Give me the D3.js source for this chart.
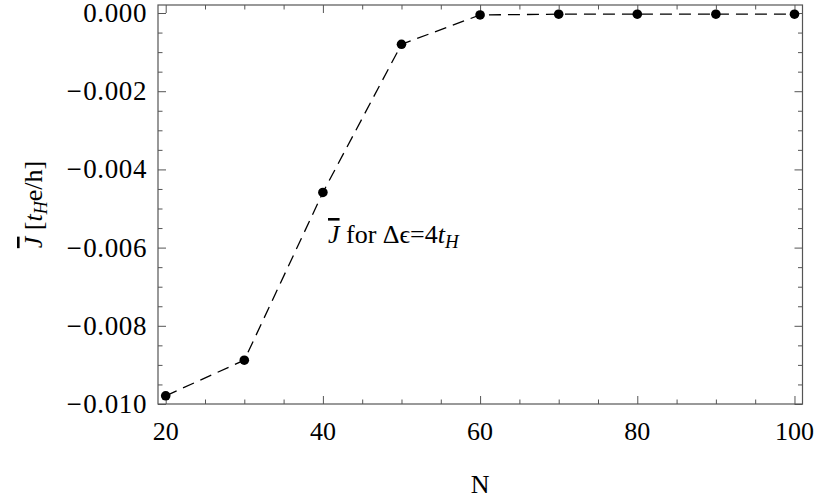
<!DOCTYPE html>
<html>
<head>
<meta charset="utf-8">
<script src="https://cdn.jsdelivr.net/npm/d3@7"></script>
<style>
  html, body { margin: 0; padding: 0; background: #fff; }
  svg { display: block; }
  text { font-family: "Liberation Serif", "DejaVu Serif", serif; fill: #000; }
</style>
</head>
<body>
<svg id="chart" width="819" height="501"></svg>
<script>
// Mean current J̄ versus system size N, for Δϵ = 4 t_H
const sizesN = [20, 30, 40, 50, 60, 70, 80, 90, 100];
const currentJ = [-0.00979, -0.00888, -0.00459, -0.00080, -0.00005, -0.00003, -0.00003, -0.00003, -0.00003];
const xMajorTicks = [20, 40, 60, 80, 100];
const yMajorTicks = [0, -0.002, -0.004, -0.006, -0.008, -0.010];

const W = 819, H = 501;
const margin = { left: 158, right: 16.5, top: 5, bottom: 97 };
const svg = d3.select("#chart");

const x = d3.scaleLinear().domain([19.02, 101.02]).range([margin.left, W - margin.right]);
const y = d3.scaleLinear().domain([-0.010, 0.000205]).range([H - margin.bottom, margin.top]);

const xMinor = d3.range(20, 101, 5).filter(v => !xMajorTicks.includes(v));
const yMinor = d3.range(0, 21).map(i => -i * 0.0005).filter(v => !yMajorTicks.some(t => Math.abs(t - v) < 1e-9));

const frameColor = "#555";

// Tick marks pointing into the plot on all four sides
function addTicks(axisGen, transform, tickVals, size) {
  const g = svg.append("g").attr("transform", transform)
    .call(axisGen.tickValues(tickVals).tickSize(size).tickFormat(""));
  g.select(".domain").remove();
  g.selectAll(".tick line").attr("stroke", frameColor).attr("stroke-width", 1);
  return g;
}
const bottomY = y.range()[0], topY = y.range()[1];
const leftX = x.range()[0], rightX = x.range()[1];
[[xMajorTicks, 8], [xMinor, 4.5]].forEach(([vals, s]) => {
  addTicks(d3.axisTop(x), `translate(0,${bottomY})`, vals, s);
  addTicks(d3.axisBottom(x), `translate(0,${topY})`, vals, s);
});
[[yMajorTicks, 8], [yMinor, 4.5]].forEach(([vals, s]) => {
  addTicks(d3.axisRight(y), `translate(${leftX},0)`, vals, s);
  addTicks(d3.axisLeft(y), `translate(${rightX},0)`, vals, s);
});

// Frame
svg.append("rect")
  .attr("x", leftX).attr("y", topY)
  .attr("width", rightX - leftX).attr("height", bottomY - topY)
  .attr("fill", "none").attr("stroke", frameColor).attr("stroke-width", 1.2);

// Tick labels
svg.append("g").selectAll("text").data(xMajorTicks).join("text")
  .attr("x", d => x(d)).attr("y", bottomY + 36)
  .attr("text-anchor", "middle").attr("font-size", 26)
  .text(d => d);
const yLabels = svg.append("g").selectAll("text").data(yMajorTicks).join("text")
  .attr("x", leftX - 11).attr("y", d => y(d)).attr("dy", "0.33em")
  .attr("text-anchor", "end").attr("font-size", 27)
  .attr("letter-spacing", 0.6);
yLabels.filter(d => d < 0).append("tspan").text("\u2212");
yLabels.append("tspan").attr("dx", d => (d < 0 ? 1 : 0)).text(d => Math.abs(d).toFixed(3));

// Axis titles
svg.append("text")
  .attr("x", (leftX + rightX) / 2).attr("y", 493)
  .attr("text-anchor", "middle").attr("font-size", 26)
  .text("N");

const yTitle = svg.append("text")
  .attr("transform", `translate(42,${(topY + bottomY) / 2}) rotate(-90)`)
  .attr("text-anchor", "middle").attr("font-size", 26);
yTitle.append("tspan").attr("font-style", "italic").attr("text-decoration", "overline").text("J");
yTitle.append("tspan").text(" [");
yTitle.append("tspan").attr("font-style", "italic").text("t");
yTitle.append("tspan").attr("font-style", "italic").attr("font-size", 18).attr("dy", 5).text("H");
yTitle.append("tspan").attr("dy", -5).text("e/h]");

// Dashed connecting line and data points
const pts = sizesN.map((n, i) => [n, currentJ[i]]);
svg.append("path")
  .datum(pts)
  .attr("fill", "none").attr("stroke", "#000").attr("stroke-width", 1.3)
  .attr("stroke-dasharray", "12,7")
  .attr("d", d3.line().x(d => x(d[0])).y(d => y(d[1])));
svg.append("g").selectAll("circle").data(pts).join("circle")
  .attr("cx", d => x(d[0])).attr("cy", d => y(d[1])).attr("r", 4.8)
  .attr("fill", "#000");

// In-plot annotation
const note = svg.append("text")
  .attr("x", 328).attr("y", 243).attr("font-size", 26);
note.append("tspan").attr("font-style", "italic").attr("text-decoration", "overline").text("J");
note.append("tspan").text(" for \u0394\u03F5=4");
note.append("tspan").attr("font-style", "italic").text("t");
note.append("tspan").attr("font-style", "italic").attr("font-size", 19).attr("dy", 5).text("H");
</script>
</body>
</html>
